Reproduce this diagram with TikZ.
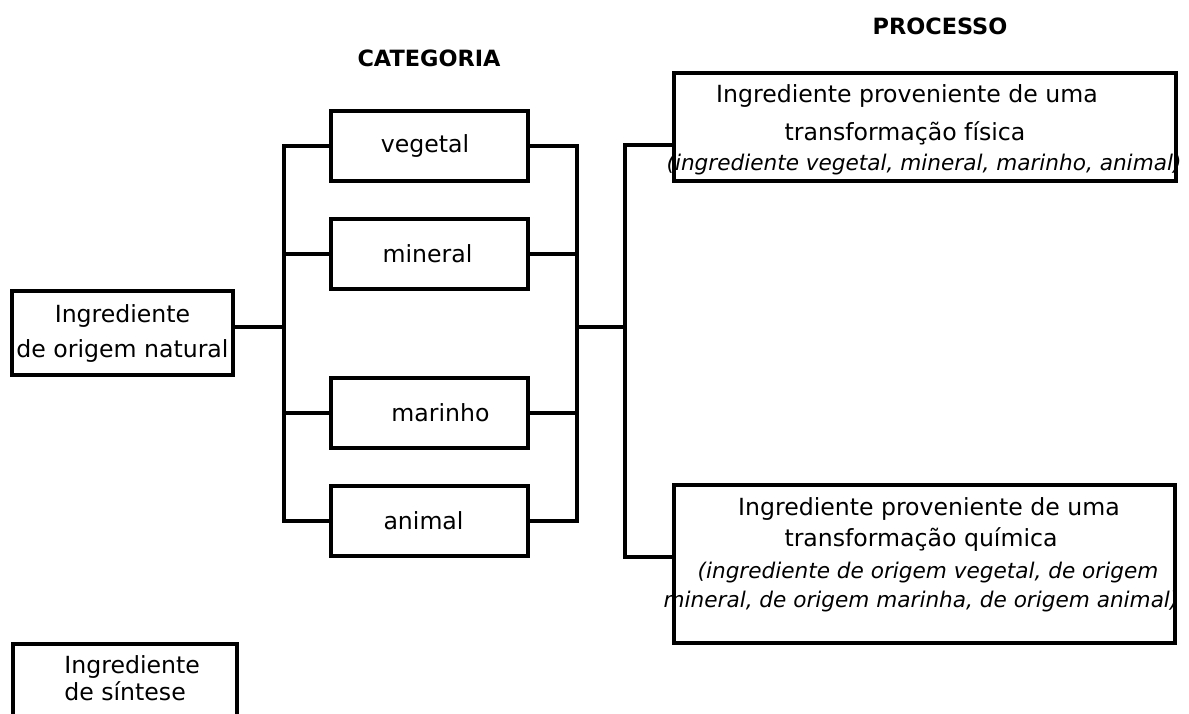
\documentclass[tikz,border=0pt]{standalone}
\usepackage{fontspec}
\setmainfont{DejaVu Sans}
\usepackage{tikz}
\usetikzlibrary{positioning, calc}

\newcommand{\fonteN}{\fontsize{11.8}{17.5}\selectfont}
\newcommand{\fonteI}{\fontsize{10.8}{15}\selectfont\itshape}
\newcommand{\fonteB}{\fontsize{11.2}{14}\selectfont\bfseries}

\tikzset{
  caixa/.style={draw, line width=2pt, inner sep=0pt, align=center, font=\fonteN},
  catbox/.style={caixa, minimum width=98.5pt, minimum height=35pt},
  texto/.style={anchor=base, inner sep=0pt, font=\fonteN},
  textoit/.style={anchor=base, inner sep=0pt, font=\fonteI},
  titulo/.style={anchor=base, inner sep=0pt, font=\fonteB},
  liga/.style={line width=2pt}
}

\begin{document}
\begin{tikzpicture}[x=0.5pt, y=-0.5pt]
  \clip (0,0) rectangle (1189,713);

  % titles
  \node[titulo] (cat) at (429,66) {CATEGORIA};
  \node[titulo] (proc) at (940,34) {PROCESSO};

  % origin
  \node[caixa, minimum width=110.5pt, minimum height=42pt] (nat) at (122.5,333) {Ingrediente\\de origem natural};
  \node[caixa, minimum width=112pt, minimum height=58pt] (sint) at (125,702) {};
  \node[texto, anchor=base west] (sint1) at (64,673) {Ingrediente};
  \node[texto, anchor=base west] (sint2) at (64,700) {de síntese};

  % categories
  \node[catbox] (veg) at (429.5,146) {vegetal\hspace*{4.5pt}};
  \node[catbox] (min) at (429.5,253.5) {mineral\hspace*{2pt}};
  \node[catbox] (mar) at (429.5,412.5) {\hspace*{11pt}marinho};
  \node[catbox] (ani) at (429.5,521) {animal\hspace*{6pt}};

  % processes
  \node[caixa, minimum width=251pt, minimum height=54pt] (fis) at (925,127) {};
  \node[texto] (fis1) at (907,102) {Ingrediente proveniente de uma};
  \node[texto] (fis2) at (905,140) {transformação física};
  \node[textoit] (fis3) at (924,170) {(ingrediente vegetal, mineral, marinho, animal)};

  \node[caixa, minimum width=250.5pt, minimum height=79pt] (qui) at (924.5,564) {};
  \node[texto] (qui1) at (929,515) {Ingrediente proveniente de uma};
  \node[texto] (qui2) at (921,546) {transformação química};
  \node[textoit] (qui3) at (928,578) {(ingrediente de origem vegetal, de origem};
  \node[textoit] (qui4) at (921,607) {mineral, de origem marinha, de origem animal)};

  % connectors
  \coordinate (nl) at (284,327);
  \coordinate (nr) at (577,327);
  \coordinate (np) at (625,327);
  \coordinate (fl) at (625,145);
  \coordinate (ql) at (625,557);

  \draw[liga] (nat.east |- nl) -- (nl);
  \draw[liga] (veg.west) -| (ani.west -| nl) -- (ani.west);
  \draw[liga] (veg.east) -| (ani.east -| nr) -- (ani.east);
  \foreach \c in {min, mar} {
    \draw[liga] (\c.west) -- (\c.west -| nl);
    \draw[liga] (\c.east) -- (\c.east -| nr);
  }
  \draw[liga] (nr) -- (np);
  \draw[liga] (fis.west |- fl) -- (fl) -- (ql) -- (qui.west |- ql);
\end{tikzpicture}
\end{document}
